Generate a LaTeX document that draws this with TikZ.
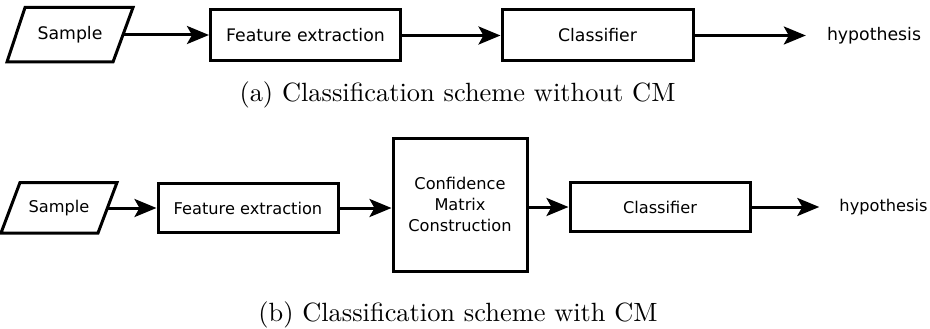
\documentclass[tikz,border=0pt]{standalone}
\usepackage{fontspec}
\newfontfamily\dv{DejaVu Sans}
\usetikzlibrary{arrows.meta,calc}
\begin{document}
\begin{tikzpicture}[x=1pt,y=-1pt,
  box/.style={draw,line width=3pt,inner sep=0pt,align=center},
  topfont/.style={font=\dv\fontsize{17.3}{21}\selectfont},
  botfont/.style={font=\dv\fontsize{16.2}{21}\selectfont},
  arr/.style={line width=3pt,-{Stealth[length=22pt,width=18pt,inset=5pt]}},
  captxt/.style={scale=2.64,inner sep=0pt,anchor=base}]
\useasboundingbox (0,0) rectangle (930,329);
% ---- (a)
\draw[line width=3pt,line join=miter] (25,7.5) -- (133,7.5) -- (113,62) -- (7,62) -- cycle;
\node[topfont,inner sep=0pt] (s1) at (70,35) {Sample};
\coordinate (s1r) at (122.5,35);
\node[box,topfont,minimum width=190pt,minimum height=51pt] (fe1) at (305.5,35.5) {Feature extraction};
\node[box,topfont,minimum width=191pt,minimum height=51pt] (cl1) at (597.5,35.5) {Classifier};
\node[topfont,inner ysep=0pt,inner xsep=21pt] (h1) at (874,35.5) {hypothesis};
\draw[arr] (s1r) -- (s1r -| fe1.west);
\draw[arr] (fe1.east) -- (cl1.west);
\draw[arr] (cl1.east) -- (h1.west);
\node[captxt] (capa) at (457.5,102) {(a) Classification scheme without CM};
% ---- (b)
\draw[line width=3pt,line join=miter] (20,182.5) -- (117,182.5) -- (98,233) -- (1,233) -- cycle;
\node[botfont,inner sep=0pt] (s2) at (59,208) {Sample};
\coordinate (s2r) at (107.5,208);
\node[box,botfont,minimum width=180pt,minimum height=49pt] (fe2) at (248,208) {Feature extraction};
\node[box,botfont,minimum width=134pt,minimum height=133pt] (cm) at (460,204.5) {Confidence\\Matrix\\Construction};
\node[box,botfont,minimum width=180pt,minimum height=49pt] (cl2) at (660,207) {Classifier};
\node[botfont,inner ysep=0pt,inner xsep=20pt] (h2) at (883.5,207) {hypothesis};
\draw[arr] (s2r) -- (fe2.west);
\draw[arr] (fe2.east) -- (fe2.east -| cm.west);
\draw[arr] (cm.east |- cl2.west) -- (cl2.west);
\draw[arr] (cl2.east) -- (h2.west);
\node[captxt] (capb) at (458,321) {(b) Classification scheme with CM};
\end{tikzpicture}
\end{document}
